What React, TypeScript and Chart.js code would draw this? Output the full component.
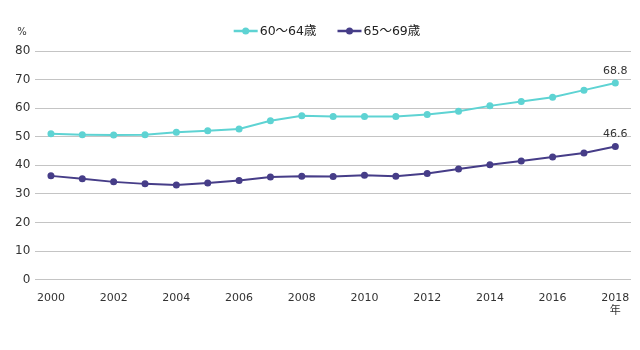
import React, { useEffect, useRef } from "react";
import { Chart, registerables } from "chart.js";

Chart.register(...registerables);

const years = ["2000","2001","2002","2003","2004","2005","2006","2007","2008","2009","2010","2011","2012","2013","2014","2015","2016","2017","2018"];
const series6064 = [51.0,50.7,50.6,50.7,51.6,52.1,52.7,55.6,57.3,57.1,57.1,57.1,57.8,58.9,60.8,62.3,63.8,66.3,68.8];
const series6569 = [36.3,35.3,34.2,33.5,33.1,33.8,34.7,35.9,36.2,36.1,36.5,36.2,37.1,38.7,40.2,41.5,42.9,44.3,46.6];
const seriesNames = ["60～64歳", "65～69歳"];
const colors = ["#5ed3d3", "#463d88"];
const yTicks = [0, 10, 20, 30, 40, 50, 60, 70, 80];
const yUnit = "%";
const xUnit = "年";

const FONT = "'DejaVu Sans', 'Noto Sans CJK JP', sans-serif";

export default function App() {
  const ref = useRef<HTMLCanvasElement | null>(null);
  useEffect(() => {
    if (!ref.current) return;
    const overlay = {
      id: "overlay",
      afterDraw(chart: any) {
        const ctx = chart.ctx;
        const area = chart.chartArea;
        ctx.save();
        // y unit
        ctx.fillStyle = "#333";
        ctx.font = `10px ${FONT}`;
        ctx.textAlign = "center";
        ctx.textBaseline = "middle";
        ctx.fillText(yUnit, 22, area.top - 19);
        // end labels
        ctx.font = `11px ${FONT}`;
        chart.data.datasets.forEach((ds: any, i: number) => {
          const meta = chart.getDatasetMeta(i);
          const last = meta.data[meta.data.length - 1];
          ctx.fillText(String(ds.data[ds.data.length - 1]), last.x, last.y - 12);
        });
        // legend
        const cy = area.top - 20;
        ctx.font = `12.5px ${FONT}`;
        ctx.textAlign = "left";
        const items = chart.data.datasets;
        const lineW = 24;
        const gap = 2;
        const between = 21;
        const widths = items.map((d: any) => lineW + gap + ctx.measureText(d.label).width);
        const total = widths.reduce((a: number, b: number) => a + b, 0) + between * (items.length - 1);
        let x = chart.width / 2 - total / 2 + 7;
        items.forEach((d: any, i: number) => {
          ctx.strokeStyle = d.borderColor;
          ctx.lineWidth = 2.5;
          ctx.beginPath();
          ctx.moveTo(x, cy);
          ctx.lineTo(x + lineW, cy);
          ctx.stroke();
          ctx.fillStyle = d.borderColor;
          ctx.beginPath();
          ctx.arc(x + lineW / 2, cy, 3.5, 0, Math.PI * 2);
          ctx.fill();
          ctx.fillStyle = "#222";
          ctx.fillText(d.label, x + lineW + gap, cy + 1);
          x += widths[i] + between;
        });
        ctx.restore();
      },
    };
    const chart = new Chart(ref.current, {
      type: "line",
      data: {
        labels: years,
        datasets: [
          {
            label: seriesNames[0],
            data: series6064,
            borderColor: colors[0],
            backgroundColor: colors[0],
            borderWidth: 2,
            pointRadius: 3.5,
            pointBorderWidth: 0,
            tension: 0,
          },
          {
            label: seriesNames[1],
            data: series6569,
            borderColor: colors[1],
            backgroundColor: colors[1],
            borderWidth: 2,
            pointRadius: 3.5,
            pointBorderWidth: 0,
            tension: 0,
          },
        ],
      },
      options: {
        responsive: false,
        animation: false,
        layout: { padding: { top: 51, left: 10, right: 9, bottom: 28 } },
        plugins: {
          legend: { display: false },
          tooltip: { enabled: false },
        },
        scales: {
          x: {
            offset: true,
            grid: { display: false },
            border: { display: false },
            ticks: {
              autoSkip: false,
              maxRotation: 0,
              color: "#333",
              padding: 4,
              font: { family: FONT, size: 11 },
              callback: (_v: any, i: number) => {
                if (i % 2 !== 0) return "";
                if (i === years.length - 1) return [years[i], xUnit];
                return years[i];
              },
            },
          },
          y: {
            min: yTicks[0],
            max: yTicks[yTicks.length - 1],
            afterBuildTicks: (axis: any) => {
              axis.ticks = yTicks.map((v) => ({ value: v }));
            },
            grid: { color: "#c4c4c4", lineWidth: 1, drawTicks: false },
            border: { display: false },
            ticks: {
              color: "#333",
              padding: 5,
              font: { family: FONT, size: 12 },
            },
          },
        },
      },
      plugins: [overlay],
    });
    return () => chart.destroy();
  }, []);
  return (
    <div style={{ position: "absolute", left: 0, top: 0, width: 640, height: 350, background: "#fff" }}>
      <canvas ref={ref} width={640} height={350} />
    </div>
  );
}
